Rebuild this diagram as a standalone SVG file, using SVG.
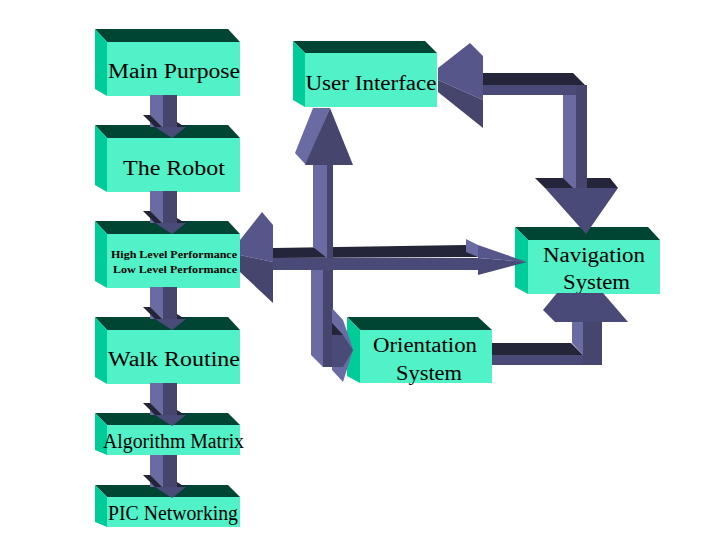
<svg xmlns="http://www.w3.org/2000/svg" xmlns:xlink="http://www.w3.org/1999/xlink" width="720" height="540" viewBox="0 0 720 540">
<style>
.top{fill:#004433}
.side{fill:#00cc99}
.front{fill:#52f2c8}
.lt{fill:#6b6ba3}
.md{fill:#4a4a78}
.mh{fill:#56568a}
.dk{fill:#25253a}
.sd{fill:#45456e}
.t{font-family:"Liberation Serif","Times New Roman",serif;font-size:20px;fill:#000;text-anchor:middle}
.s{font-family:"Liberation Serif","Times New Roman",serif;font-size:11px;font-weight:bold;fill:#000;text-anchor:middle}
</style>
<defs>
<g id="smallArrow">
<rect class="lt" x="150" y="-30" width="13" height="32"/>
<rect class="sd" x="163" y="-30" width="14" height="32"/>
<polygon class="dk" points="143,-10 150,-10 162,2 155,2"/>
<polygon class="dk" points="177,-3 185,2 177,2"/>
<polygon class="md" points="155,2 186,2 172,13"/>
</g>
</defs>
<rect width="720" height="540" fill="#ffffff"/>

<g id="main-purpose">
<polygon class="top" points="95,29 228,29 240,42 107,42"/>
<polygon class="side" points="95,29 107,42 107,96 95,89"/>
<rect class="front" x="107" y="42" width="133" height="54"/>
<text class="t" x="174" y="78" textLength="132" lengthAdjust="spacingAndGlyphs">Main Purpose</text>
</g>
<g id="the-robot">
<polygon class="top" points="95,125 228,125 240,138 107,138"/>
<polygon class="side" points="95,125 107,138 107,192 95,185"/>
<rect class="front" x="107" y="138" width="133" height="54"/>
<text class="t" x="174" y="175" textLength="102" lengthAdjust="spacingAndGlyphs">The Robot</text>
</g>
<g id="performance">
<polygon class="top" points="95,221 228,221 240,234 107,234"/>
<polygon class="side" points="95,221 107,234 107,288 95,281"/>
<rect class="front" x="107" y="234" width="133" height="54"/>
<text class="s" x="174" y="258" textLength="126" lengthAdjust="spacingAndGlyphs">High Level Performance</text>
<text class="s" x="175" y="273" textLength="124" lengthAdjust="spacingAndGlyphs">Low Level Performance</text>
</g>
<g id="walk-routine">
<polygon class="top" points="95,317 228,317 240,330 107,330"/>
<polygon class="side" points="95,317 107,330 107,384 95,377"/>
<rect class="front" x="107" y="330" width="133" height="54"/>
<text class="t" x="174" y="366" textLength="132" lengthAdjust="spacingAndGlyphs">Walk Routine</text>
</g>
<g id="algorithm-matrix">
<polygon class="top" points="95,413 228,413 240,425 107,425"/>
<polygon class="side" points="95,413 107,425 107,455 95,450"/>
<rect class="front" x="107" y="425" width="133" height="30"/>
<text class="t" x="173.5" y="448" textLength="141" lengthAdjust="spacingAndGlyphs">Algorithm Matrix</text>
</g>
<g id="pic-networking">
<polygon class="top" points="95,485 228,485 240,497 107,497"/>
<polygon class="side" points="95,485 107,497 107,527 95,522"/>
<rect class="front" x="107" y="497" width="133" height="30"/>
<text class="t" x="173" y="520" textLength="130" lengthAdjust="spacingAndGlyphs">PIC Networking</text>
</g>
<g id="user-interface">
<polygon class="top" points="293,41 425,41 437,53 305,53"/>
<polygon class="side" points="293,41 305,53 305,107 293,100"/>
<rect class="front" x="305" y="53" width="132" height="54"/>
<text class="t" x="371" y="90" textLength="131" lengthAdjust="spacingAndGlyphs">User Interface</text>
</g>
<g id="navigation-system">
<polygon class="top" points="515,227 648,227 660,240 528,240"/>
<polygon class="side" points="515,227 528,240 528,294 515,287"/>
<rect class="front" x="528" y="240" width="132" height="54"/>
<text class="t" x="594" y="262" textLength="102" lengthAdjust="spacingAndGlyphs">Navigation</text>
<text class="t" x="596.5" y="289" textLength="67" lengthAdjust="spacingAndGlyphs">System</text>
</g>
<g id="orientation-system">
<polygon class="top" points="347,317 478,317 492,330 360,330"/>
<polygon class="side" points="347,317 360,330 360,383 347,376"/>
<rect class="front" x="360" y="330" width="132" height="53"/>
<text class="t" x="425" y="352" textLength="104" lengthAdjust="spacingAndGlyphs">Orientation</text>
<text class="t" x="429" y="380" textLength="66" lengthAdjust="spacingAndGlyphs">System</text>
</g>

<g id="connectors">
<use xlink:href="#smallArrow" y="125"/>
<use xlink:href="#smallArrow" y="221"/>
<use xlink:href="#smallArrow" y="317"/>
<use xlink:href="#smallArrow" y="413"/>
<use xlink:href="#smallArrow" y="485"/>

<!-- central cross: UI / Performance / Navigation / Orientation -->
<polygon class="dk" points="273,248 466,245 478,257 273,258"/>
<polygon class="lt" points="313,165 327,165 327,258 313,247"/>
<rect class="sd" x="327" y="165" width="6" height="93"/>
<polygon class="lt" points="313,108 330,108 306,165 295,153"/>
<polygon class="sd" points="330,108 353,165 305,165"/>
<rect class="md" x="273" y="258" width="205" height="12"/>
<polygon class="mh" points="262,212 273,225 273,262 240,255 240,240"/>
<polygon class="sd" points="240,255 273,262 273,303 240,272"/>
<polygon class="lt" points="466,239 478,245 478,257 466,252"/>
<polygon class="mh" points="478,245 527,262 478,258"/>
<polygon class="md" points="478,258 527,262 478,275"/>
<polygon class="lt" points="311,270 323,270 323,367 311,355"/>
<rect class="sd" x="323" y="270" width="10" height="97"/>
<polygon class="lt" points="332,308 343,320 350,340 353,350 343,382 332,370"/>
<polygon class="md" points="332,323 343,335 353,350 343,367 332,367"/>
<polygon class="dk" points="332,323 343,335 332,335"/>

<!-- Orientation to Navigation -->
<polygon class="dk" points="492,343 571,343 583,355 492,355"/>
<rect class="md" x="492" y="355" width="110" height="10"/>
<polygon class="lt" points="572,322 583,322 583,355 572,343"/>
<rect class="sd" x="583" y="322" width="19" height="43"/>
<polygon class="md" points="543,310 557,293 603,293 628,322 555,322"/>

<!-- Navigation to User Interface loop -->
<polygon class="mh" points="470,43 483,56 483,100 438,80 438,68"/>
<polygon class="sd" points="438,80 483,100 483,128 438,92"/>
<polygon class="dk" points="483,73 573,73 585,85 483,85"/>
<rect class="md" x="483" y="85" width="104" height="10"/>
<rect class="lt" x="563" y="95" width="13" height="93"/>
<rect class="sd" x="576" y="85" width="11" height="103"/>
<polygon class="dk" points="535,178 563,178 573,188 545,188"/>
<polygon class="dk" points="587,178 610,178 618,188 587,188"/>
<polygon class="md" points="545,188 618,188 586,234"/>
</g>
</svg>
